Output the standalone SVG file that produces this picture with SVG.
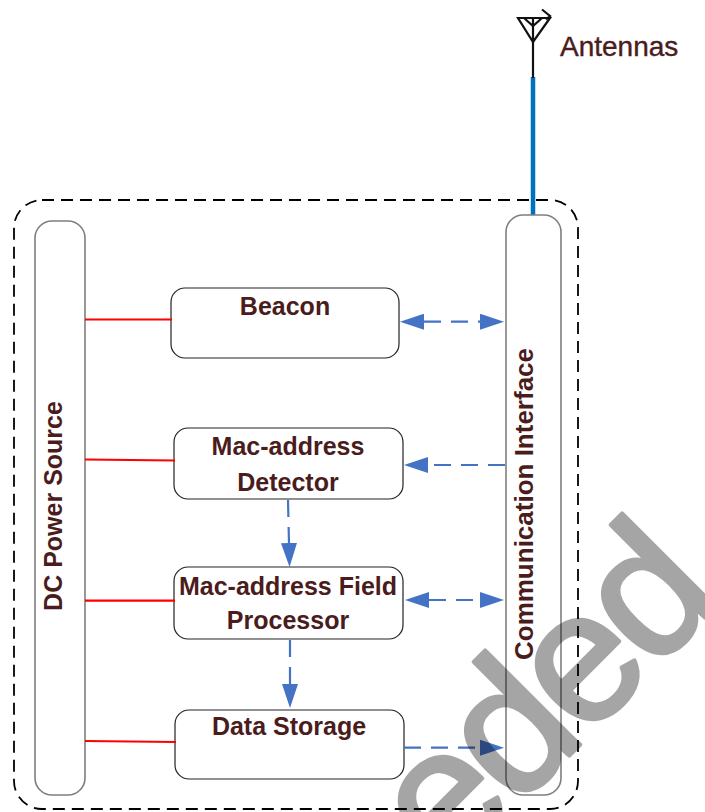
<svg xmlns="http://www.w3.org/2000/svg" width="705" height="812" viewBox="0 0 705 812">
<style>
  .lbl { font-family: "Liberation Sans", Arial, sans-serif; font-weight: bold; font-size: 25px; fill: #4a1c1c; text-anchor: middle; }
  .box { fill: #ffffff; stroke: #222222; stroke-width: 1.2; }
  .bar { fill: #ffffff; stroke: #7f7f7f; stroke-width: 1.6; }
  .pwr { stroke: #ff0000; stroke-width: 2.2; fill: none; }
  .dash { stroke: #4472c4; stroke-width: 2.2; fill: none; stroke-dasharray: 17 10; }
  .ant { stroke: #111111; stroke-width: 2.2; fill: none; stroke-linejoin: miter; }
</style>
<defs>
  <marker id="ah" viewBox="0 0 24 16" refX="0" refY="8" markerWidth="24" markerHeight="16" markerUnits="userSpaceOnUse" orient="auto-start-reverse">
    <path d="M0,0 L24,8 L0,16 z" fill="#4472c4"/>
  </marker>
</defs>
<rect width="705" height="812" fill="#ffffff"/>

<g id="container">
  <rect x="14" y="200" width="564" height="609" rx="28" ry="28" fill="none" stroke="#000000" stroke-width="1.8" stroke-dasharray="12 7"/>
</g>

<g id="antenna">
  <line x1="533" y1="77" x2="533" y2="216" stroke="#0070c0" stroke-width="4.5"/>
  <line class="ant" x1="533" y1="18" x2="533" y2="78"/>
  <polygon class="ant" points="518,18 550,18 533,42"/>
  <polyline class="ant" points="524,18 533,26 542,18"/>
  <polyline class="ant" points="542,9.5 550,16 546,19.5"/>
  <text x="560" y="56" style="font-family:'Liberation Sans',Arial,sans-serif;font-size:28px;fill:#4a1c1c;stroke:#4a1c1c;stroke-width:0.4;">Antennas</text>
</g>

<g id="dc-power-source">
  <rect class="bar" x="35" y="221" width="50" height="574" rx="17" ry="17"/>
  <text class="lbl" transform="translate(62,506) rotate(-90)" x="0" y="0">DC Power Source</text>
</g>

<g id="communication-interface">
  <rect class="bar" x="506" y="215" width="55" height="580" rx="17" ry="17"/>
  <text class="lbl" style="font-size:26px" transform="translate(533,504) rotate(-90)" x="0" y="0">Communication Interface</text>
</g>

<g id="beacon">
  <rect class="box" x="171" y="288" width="228" height="70" rx="14" ry="14"/>
  <text class="lbl" x="285" y="315">Beacon</text>
</g>

<g id="mac-address-detector">
  <rect class="box" x="174" y="428" width="229" height="71" rx="14" ry="14"/>
  <text class="lbl" x="288" y="455">Mac-address</text>
  <text class="lbl" x="288" y="491">Detector</text>
</g>

<g id="mac-address-field-processor">
  <rect class="box" x="174" y="567" width="229" height="72" rx="14" ry="14"/>
  <text class="lbl" x="288" y="595">Mac-address Field</text>
  <text class="lbl" x="288" y="629">Processor</text>
</g>

<g id="data-storage">
  <rect class="box" x="175" y="710" width="229" height="69" rx="14" ry="14"/>
  <text class="lbl" x="289" y="735">Data Storage</text>
</g>

<g id="connectors">
  <line class="pwr" x1="85" y1="319.5" x2="172" y2="319.5"/>
  <line class="pwr" x1="85" y1="459.5" x2="175" y2="460.5"/>
  <line class="pwr" x1="85" y1="600.7" x2="175" y2="600.7"/>
  <line class="pwr" x1="85" y1="741" x2="176" y2="742"/>

  <line class="dash" x1="424" y1="321.7" x2="480" y2="321.7" marker-start="url(#ah)" marker-end="url(#ah)"/>
  <line class="dash" x1="505" y1="465" x2="428" y2="465" marker-end="url(#ah)"/>
  <line class="dash" x1="429" y1="600" x2="480" y2="600" marker-start="url(#ah)" marker-end="url(#ah)"/>
  <line class="dash" x1="404" y1="747.7" x2="480" y2="747.7" marker-end="url(#ah)"/>
  <line class="dash" x1="288" y1="500" x2="289" y2="543" marker-end="url(#ah)"/>
  <line class="dash" x1="290" y1="640" x2="290" y2="684" marker-end="url(#ah)"/>
</g>

<g id="watermark" opacity="0.35">
  <text transform="translate(447.5,877.5) rotate(-45)" x="0" y="0" style="font-family:'Liberation Sans',Arial,sans-serif;font-size:185px;letter-spacing:-6px;fill:#000000;stroke:#000000;stroke-width:4;stroke-linejoin:round;">eded</text>
</g>
</svg>
